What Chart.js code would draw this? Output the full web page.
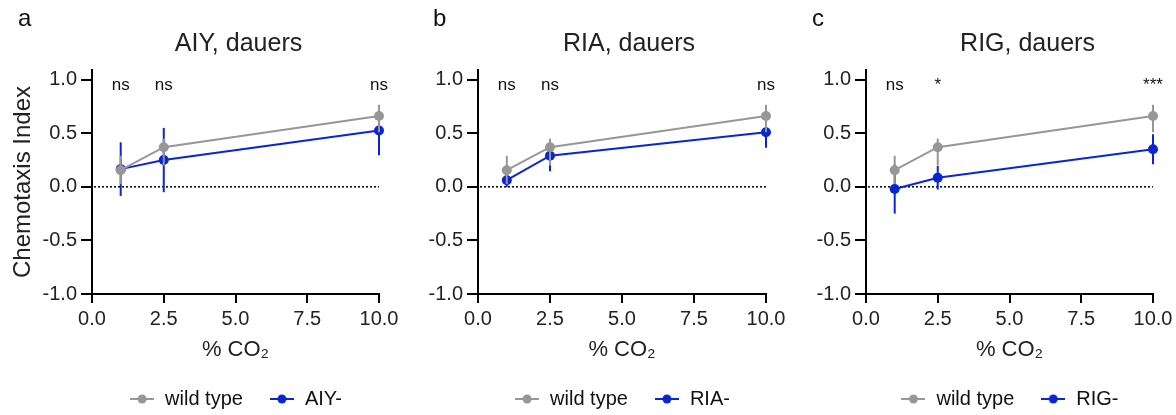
<!DOCTYPE html>
<html>
<head>
<meta charset="utf-8">
<script src="https://cdn.jsdelivr.net/npm/chart.js@4.4.1/dist/chart.umd.min.js"></script>
<style>
  body { margin: 0; background: #fff; }
  #wrap { position: relative; width: 1176px; height: 415px; }
  .panel { position: absolute; top: 0; height: 415px; }
</style>
</head>
<body>
<div id="wrap">
  <div class="panel" style="left:0px"><canvas id="panelA" width="412" height="415"></canvas></div>
  <div class="panel" style="left:392px"><canvas id="panelB" width="412" height="415"></canvas></div>
  <div class="panel" style="left:784px"><canvas id="panelC" width="392" height="415"></canvas></div>
</div>
<script>
// % CO2 tested
const doses = [1, 2.5, 10];
const xTicks = [0, 2.5, 5, 7.5, 10];
const yTicks = [-1, -0.5, 0, 0.5, 1];

// wild type (same in every panel)
const wildType = [0.155, 0.37, 0.66];
const wildTypeErrUp = [0.135, 0.08, 0.105];
const wildTypeErrDown = [0.13, 0.17, 0.15];

// ablated neurons
const aiy = [0.165, 0.25, 0.525];
const aiyErr = [0.25, 0.3, 0.23];
const ria = [0.062, 0.29, 0.51];
const riaErr = [0.065, 0.145, 0.145];
const rig = [-0.02, 0.085, 0.35];
const rigErr = [0.23, 0.11, 0.14];

// significance marks
const aiySig = ['ns', 'ns', 'ns'];
const riaSig = ['ns', 'ns', 'ns'];
const rigSig = ['ns', '*', '***'];

const GREY = '#979797';
const BLUE = '#0a26d2';

Chart.defaults.font.family = '"Liberation Sans", Arial, sans-serif';

// small line + dot for the legend
function legendMarker(color) {
  const c = document.createElement('canvas');
  c.width = 24; c.height = 12;
  const g = c.getContext('2d');
  g.strokeStyle = color; g.lineWidth = 2;
  g.beginPath(); g.moveTo(0, 6); g.lineTo(24, 6); g.stroke();
  g.fillStyle = color;
  g.beginPath(); g.arc(12, 6, 4.5, 0, Math.PI * 2); g.fill();
  return c;
}

const panelDecor = {
  id: 'panelDecor',
  beforeDatasetsDraw(chart) {
    // dotted line at 0
    const {ctx, chartArea, scales} = chart;
    const y0 = scales.y.getPixelForValue(0);
    ctx.save();
    ctx.strokeStyle = '#000';
    ctx.lineWidth = 1.5;
    ctx.setLineDash([2, 2]);
    ctx.beginPath();
    ctx.moveTo(chartArea.left + 2, y0);
    ctx.lineTo(chartArea.right, y0);
    ctx.stroke();
    ctx.restore();
  },
  beforeDatasetDraw(chart, args) {
    // error bars under each series
    const ds = chart.data.datasets[args.index];
    const {ctx, scales} = chart;
    ctx.save();
    ctx.strokeStyle = ds.borderColor;
    ctx.lineWidth = 2;
    ds.data.forEach((d, i) => {
      const x = scales.x.getPixelForValue(d.x);
      ctx.beginPath();
      ctx.moveTo(x, scales.y.getPixelForValue(d.y + ds.errUp[i]));
      ctx.lineTo(x, scales.y.getPixelForValue(d.y - ds.errDown[i]));
      ctx.stroke();
    });
    ctx.restore();
  },
  afterDatasetsDraw(chart, args, opts) {
    const {ctx, scales} = chart;
    ctx.save();
    ctx.fillStyle = '#111';
    ctx.font = '17px "Liberation Sans", Arial, sans-serif';
    ctx.textAlign = 'center';
    ctx.textBaseline = 'middle';
    opts.sig.forEach((s, i) => {
      ctx.fillText(s, scales.x.getPixelForValue(doses[i]), scales.y.getPixelForValue(0.95));
    });
    ctx.restore();
  },
  afterDraw(chart, args, opts) {
    const {ctx, chartArea} = chart;
    ctx.save();
    ctx.fillStyle = '#111';
    ctx.textBaseline = 'alphabetic';
    ctx.font = '24px "Liberation Sans", Arial, sans-serif';
    ctx.textAlign = 'left';
    ctx.fillText(opts.letter, opts.letterX, 26);
    ctx.fillStyle = '#222';
    ctx.textAlign = 'center';
    ctx.font = '25px "Liberation Sans", Arial, sans-serif';
    ctx.fillText(opts.title, (chartArea.left + chartArea.right) / 2 + opts.titleShift, 51);
    ctx.restore();
  }
};

const panels = [
  {id: 'panelA', letter: 'a', title: 'AIY, dauers', mutant: 'AIY-', values: aiy, err: aiyErr, sig: aiySig,
   axisWidth: 92, padRight: 33, letterX: 18, titleShift: 3, yTitle: true},
  {id: 'panelB', letter: 'b', title: 'RIA, dauers', mutant: 'RIA-', values: ria, err: riaErr, sig: riaSig,
   axisWidth: 86, padRight: 38, letterX: 41, titleShift: 7, yTitle: false},
  {id: 'panelC', letter: 'c', title: 'RIG, dauers', mutant: 'RIG-', values: rig, err: rigErr, sig: rigSig,
   axisWidth: 82, padRight: 23, letterX: 28, titleShift: 18, yTitle: false}
];

const markers = [legendMarker(GREY), legendMarker(BLUE)];

panels.forEach(p => {
  const series = (label, values, color, errUp, errDown) => ({
    label: label,
    data: values.map((v, i) => ({x: doses[i], y: v})),
    errUp: errUp,
    errDown: errDown,
    borderColor: color,
    backgroundColor: color,
    borderWidth: 2,
    pointRadius: 5,
    pointHoverRadius: 5,
    pointBorderWidth: 0,
    tension: 0,
    clip: false
  });
  const wt = series('wild type', wildType, GREY, wildTypeErrUp, wildTypeErrDown);
  const mt = series(p.mutant, p.values, BLUE, p.err, p.err);

  new Chart(document.getElementById(p.id), {
    type: 'line',
    data: {datasets: [wt, mt]},
    options: {
      responsive: false,
      animation: false,
      devicePixelRatio: 1,
      layout: {padding: {top: 70, right: p.padRight, bottom: -4, left: 0}},
      scales: {
        x: {
          type: 'linear', min: 0, max: 10, position: 'bottom',
          afterBuildTicks: s => { s.ticks = xTicks.map(v => ({value: v})); },
          afterFit: s => { s.height = 69; s.paddingLeft = 0; s.paddingRight = 0; },
          border: {display: true, color: '#000', width: 2},
          grid: {drawOnChartArea: false, drawTicks: true, tickLength: 9, color: '#000', lineWidth: 2},
          ticks: {color: '#222', font: {size: 20}, padding: 4, maxRotation: 0, autoSkip: false,
                  callback: v => v.toFixed(1)},
          title: {display: true, text: '% CO₂', color: '#222', font: {size: 22}, padding: {top: 0, bottom: 0}}
        },
        y: {
          type: 'linear', min: -1, max: 1.09,
          afterBuildTicks: s => { s.ticks = yTicks.map(v => ({value: v})); },
          afterFit: s => { s.width = p.axisWidth; s.paddingTop = 0; s.paddingBottom = 0; },
          border: {display: true, color: '#000', width: 2},
          grid: {drawOnChartArea: false, drawTicks: true, tickLength: 11, color: '#000', lineWidth: 2},
          ticks: {color: '#222', font: {size: 20}, padding: 4, callback: v => v.toFixed(1)},
          title: {display: p.yTitle, text: 'Chemotaxis Index', color: '#222', font: {size: 24},
                  padding: {top: 9, bottom: 0}}
        }
      },
      plugins: {
        title: {display: false},
        tooltip: {enabled: false},
        legend: {
          position: 'bottom',
          fullSize: false,
          labels: {
            color: '#111',
            font: {size: 20},
            usePointStyle: true,
            pointStyleWidth: 26,
            padding: 26,
            generateLabels: chart =>
              Chart.defaults.plugins.legend.labels.generateLabels(chart).map(item => {
                item.pointStyle = markers[item.datasetIndex];
                return item;
              })
          }
        },
        panelDecor: {letter: p.letter, letterX: p.letterX, title: p.title, titleShift: p.titleShift, sig: p.sig}
      }
    },
    plugins: [panelDecor]
  });
});
</script>
</body>
</html>
